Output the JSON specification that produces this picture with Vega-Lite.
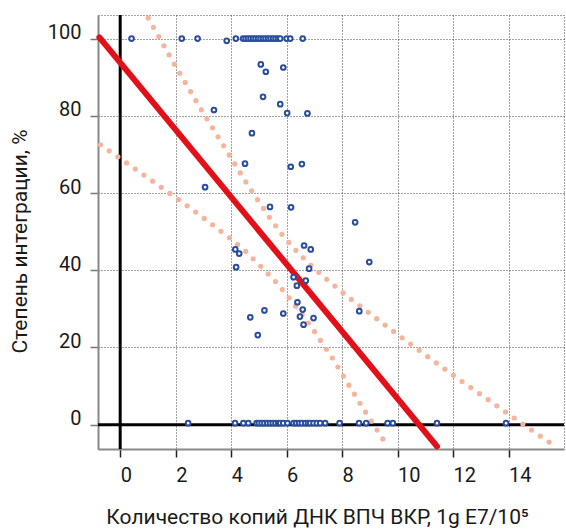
{
  "$schema": "https://vega.github.io/schema/vega-lite/v6.json",
  "width": 466,
  "height": 434,
  "autosize": "none",
  "padding": {"left": 98, "top": 15, "right": 2, "bottom": 80},
  "background": "white",
  "config": {
    "view": {"stroke": "#444", "strokeDash": [1, 2], "strokeWidth": 1},
    "font": "Roboto"
  },
  "datasets": {
    "pts": [
      {"x": 0.41, "y": 100}, {"x": 2.22, "y": 100}, {"x": 2.79, "y": 100}, {"x": 3.84, "y": 99.4},
      {"x": 4.17, "y": 100}, {"x": 4.43, "y": 100}, {"x": 4.52, "y": 100}, {"x": 4.61, "y": 100},
      {"x": 4.7, "y": 100}, {"x": 4.79, "y": 100}, {"x": 4.88, "y": 100}, {"x": 4.97, "y": 100},
      {"x": 5.06, "y": 100}, {"x": 5.15, "y": 100}, {"x": 5.24, "y": 100}, {"x": 5.33, "y": 100},
      {"x": 5.42, "y": 100}, {"x": 5.51, "y": 100}, {"x": 5.6, "y": 100}, {"x": 5.69, "y": 100},
      {"x": 5.77, "y": 100}, {"x": 6.0, "y": 100}, {"x": 6.13, "y": 100}, {"x": 6.58, "y": 100},
      {"x": 5.07, "y": 93.3}, {"x": 5.25, "y": 91.4}, {"x": 5.88, "y": 92.5},
      {"x": 5.15, "y": 84.9}, {"x": 5.77, "y": 83.0}, {"x": 6.02, "y": 80.7}, {"x": 6.75, "y": 80.6},
      {"x": 3.38, "y": 81.5}, {"x": 4.75, "y": 75.5}, {"x": 4.5, "y": 67.6}, {"x": 6.15, "y": 66.8},
      {"x": 6.55, "y": 67.5}, {"x": 3.06, "y": 61.5}, {"x": 5.4, "y": 56.4}, {"x": 6.16, "y": 56.3},
      {"x": 8.47, "y": 52.4}, {"x": 8.98, "y": 42.1}, {"x": 4.15, "y": 45.4}, {"x": 4.29, "y": 44.3},
      {"x": 4.18, "y": 40.8}, {"x": 6.63, "y": 46.4}, {"x": 6.87, "y": 45.4}, {"x": 6.81, "y": 40.4},
      {"x": 6.25, "y": 38.2}, {"x": 6.69, "y": 37.3}, {"x": 6.37, "y": 36.0}, {"x": 6.39, "y": 31.7},
      {"x": 6.58, "y": 29.8}, {"x": 6.48, "y": 28.0}, {"x": 6.97, "y": 27.6}, {"x": 6.61, "y": 25.9},
      {"x": 5.88, "y": 28.8}, {"x": 5.2, "y": 29.6}, {"x": 4.69, "y": 27.8}, {"x": 4.96, "y": 23.2},
      {"x": 8.62, "y": 29.4},
      {"x": 2.45, "y": 0.4}, {"x": 4.14, "y": 0.4}, {"x": 4.44, "y": 0.4}, {"x": 4.62, "y": 0.4},
      {"x": 4.92, "y": 0.4}, {"x": 5.0, "y": 0.4}, {"x": 5.1, "y": 0.4}, {"x": 5.2, "y": 0.4},
      {"x": 5.3, "y": 0.4}, {"x": 5.4, "y": 0.4}, {"x": 5.5, "y": 0.4}, {"x": 5.6, "y": 0.4},
      {"x": 5.7, "y": 0.4}, {"x": 5.77, "y": 0.4}, {"x": 5.88, "y": 0.4}, {"x": 6.03, "y": 0.4},
      {"x": 6.25, "y": 0.4}, {"x": 6.35, "y": 0.4}, {"x": 6.45, "y": 0.4}, {"x": 6.55, "y": 0.4},
      {"x": 6.67, "y": 0.4}, {"x": 6.77, "y": 0.4}, {"x": 6.85, "y": 0.4}, {"x": 6.97, "y": 0.4},
      {"x": 7.09, "y": 0.4}, {"x": 7.21, "y": 0.4}, {"x": 7.39, "y": 0.4}, {"x": 7.91, "y": 0.4},
      {"x": 8.61, "y": 0.4}, {"x": 8.87, "y": 0.4}, {"x": 9.64, "y": 0.4}, {"x": 9.83, "y": 0.4},
      {"x": 11.42, "y": 0.4}, {"x": 13.91, "y": 0.4}
    ],
    "reg": [{"x": -0.75, "y": 100.3}, {"x": 11.42, "y": -5.6}],
    "up": [
      {"x": 1.01, "y": 105.3}, {"x": 1.95, "y": 93.4}, {"x": 2.92, "y": 81.6}, {"x": 3.86, "y": 70.7},
      {"x": 4.49, "y": 63.3}, {"x": 4.95, "y": 58.3}, {"x": 5.4, "y": 53.5}, {"x": 5.88, "y": 48.8},
      {"x": 6.43, "y": 44.4}, {"x": 6.93, "y": 40.9}, {"x": 7.52, "y": 37.2}, {"x": 8.14, "y": 33.5},
      {"x": 8.76, "y": 30.1}, {"x": 9.4, "y": 26.6}, {"x": 10.35, "y": 21.5}, {"x": 11.3, "y": 16.5},
      {"x": 12.26, "y": 11.5}, {"x": 13.24, "y": 6.6}, {"x": 14.21, "y": 1.7}, {"x": 15.19, "y": -3.2},
      {"x": 15.63, "y": -5.3}
    ],
    "lo": [
      {"x": -0.71, "y": 72.5}, {"x": 0.23, "y": 67.8}, {"x": 1.18, "y": 63.0}, {"x": 2.13, "y": 58.2},
      {"x": 3.07, "y": 53.2}, {"x": 3.99, "y": 48.1}, {"x": 4.48, "y": 45.2}, {"x": 5.07, "y": 41.0},
      {"x": 5.65, "y": 36.7}, {"x": 6.16, "y": 32.2}, {"x": 6.66, "y": 27.6}, {"x": 6.9, "y": 25.2},
      {"x": 7.71, "y": 16.6}, {"x": 8.56, "y": 6.5}, {"x": 8.98, "y": 1.7}, {"x": 9.57, "y": -4.8}
    ]
  },
  "layer": [
    {
      "data": {"values": [{}]},
      "mark": {"type": "rule", "color": "black", "strokeWidth": 3},
      "encoding": {
        "x": {"datum": 0, "type": "quantitative", "title": "Количество копий ДНК ВПЧ ВКР, 1g E7/10⁵",
          "scale": {"domain": [-0.8, 16], "nice": false, "zero": false},
          "axis": {
            "values": [0, 2, 4, 6, 8, 10, 12, 14],
            "grid": true, "gridColor": "#444", "gridDash": [1, 2], "gridWidth": 1,
            "domainColor": "#888", "domainWidth": 2,
            "tickColor": "#222", "tickSize": 8, "tickWidth": 1.5,
            "labelFont": "Roboto", "labelFontSize": 20, "labelColor": "#1a1a1a",
            "labelAlign": "left", "labelBaseline": "alphabetic", "labelPadding": 24, "labelFlush": false,
            "title": "Количество копий ДНК ВПЧ ВКР, 1g E7/10⁵",
            "titleFont": "Roboto", "titleFontSize": 21, "titleFontWeight": "normal", "titleColor": "#1a1a1a",
            "titleX": 219, "titleY": 74, "titleBaseline": "alphabetic", "titleAlign": "center"
          }
        }
      }
    },
    {
      "data": {"values": [{}]},
      "mark": {"type": "rule", "color": "black", "strokeWidth": 3},
      "encoding": {
        "y": {"datum": 0, "type": "quantitative", "title": "Степень интеграции, %",
          "scale": {"domain": [-6.3, 106.1], "nice": false, "zero": false},
          "axis": {
            "values": [0, 20, 40, 60, 80, 100],
            "grid": true, "gridColor": "#444", "gridDash": [1, 2], "gridWidth": 1,
            "domainColor": "#888", "domainWidth": 2,
            "tickColor": "#777", "tickSize": 8, "tickWidth": 1.5,
            "labelFont": "Roboto", "labelFontSize": 20, "labelColor": "#1a1a1a",
            "labelAlign": "right", "labelBaseline": "alphabetic", "labelPadding": 9, "labelFlush": false,
            "title": "Степень интеграции, %",
            "titleFont": "Roboto", "titleFontSize": 21, "titleFontWeight": "normal", "titleColor": "#1a1a1a",
            "titleX": -72, "titleY": 226, "titleBaseline": "alphabetic", "titleAlign": "center", "titleAngle": -90
          }
        }
      }
    },
    {
      "data": {"name": "up"},
      "mark": {"type": "line", "color": "#f5b49b", "strokeWidth": 5.2, "strokeDash": [0, 10.6], "strokeCap": "round"},
      "encoding": {
        "x": {"field": "x", "type": "quantitative", "title": "Количество копий ДНК ВПЧ ВКР, 1g E7/10⁵"},
        "y": {"field": "y", "type": "quantitative", "title": "Степень интеграции, %"}
      }
    },
    {
      "data": {"name": "lo"},
      "mark": {"type": "line", "color": "#f5b49b", "strokeWidth": 5.2, "strokeDash": [0, 10.6], "strokeCap": "round"},
      "encoding": {
        "x": {"field": "x", "type": "quantitative", "title": "Количество копий ДНК ВПЧ ВКР, 1g E7/10⁵"},
        "y": {"field": "y", "type": "quantitative", "title": "Степень интеграции, %"}
      }
    },
    {
      "data": {"name": "reg"},
      "mark": {"type": "line", "color": "#e3101a", "strokeWidth": 6, "strokeCap": "round", "clip": false},
      "encoding": {
        "x": {"field": "x", "type": "quantitative", "title": "Количество копий ДНК ВПЧ ВКР, 1g E7/10⁵"},
        "y": {"field": "y", "type": "quantitative", "title": "Степень интеграции, %"}
      }
    },
    {
      "data": {"name": "pts"},
      "mark": {"type": "point", "shape": "circle", "fill": "white", "stroke": "#2a4d9c", "strokeWidth": 2, "size": 22, "opacity": 1, "fillOpacity": 1},
      "encoding": {
        "x": {"field": "x", "type": "quantitative", "title": "Количество копий ДНК ВПЧ ВКР, 1g E7/10⁵"},
        "y": {"field": "y", "type": "quantitative", "title": "Степень интеграции, %"}
      }
    }
  ]
}
